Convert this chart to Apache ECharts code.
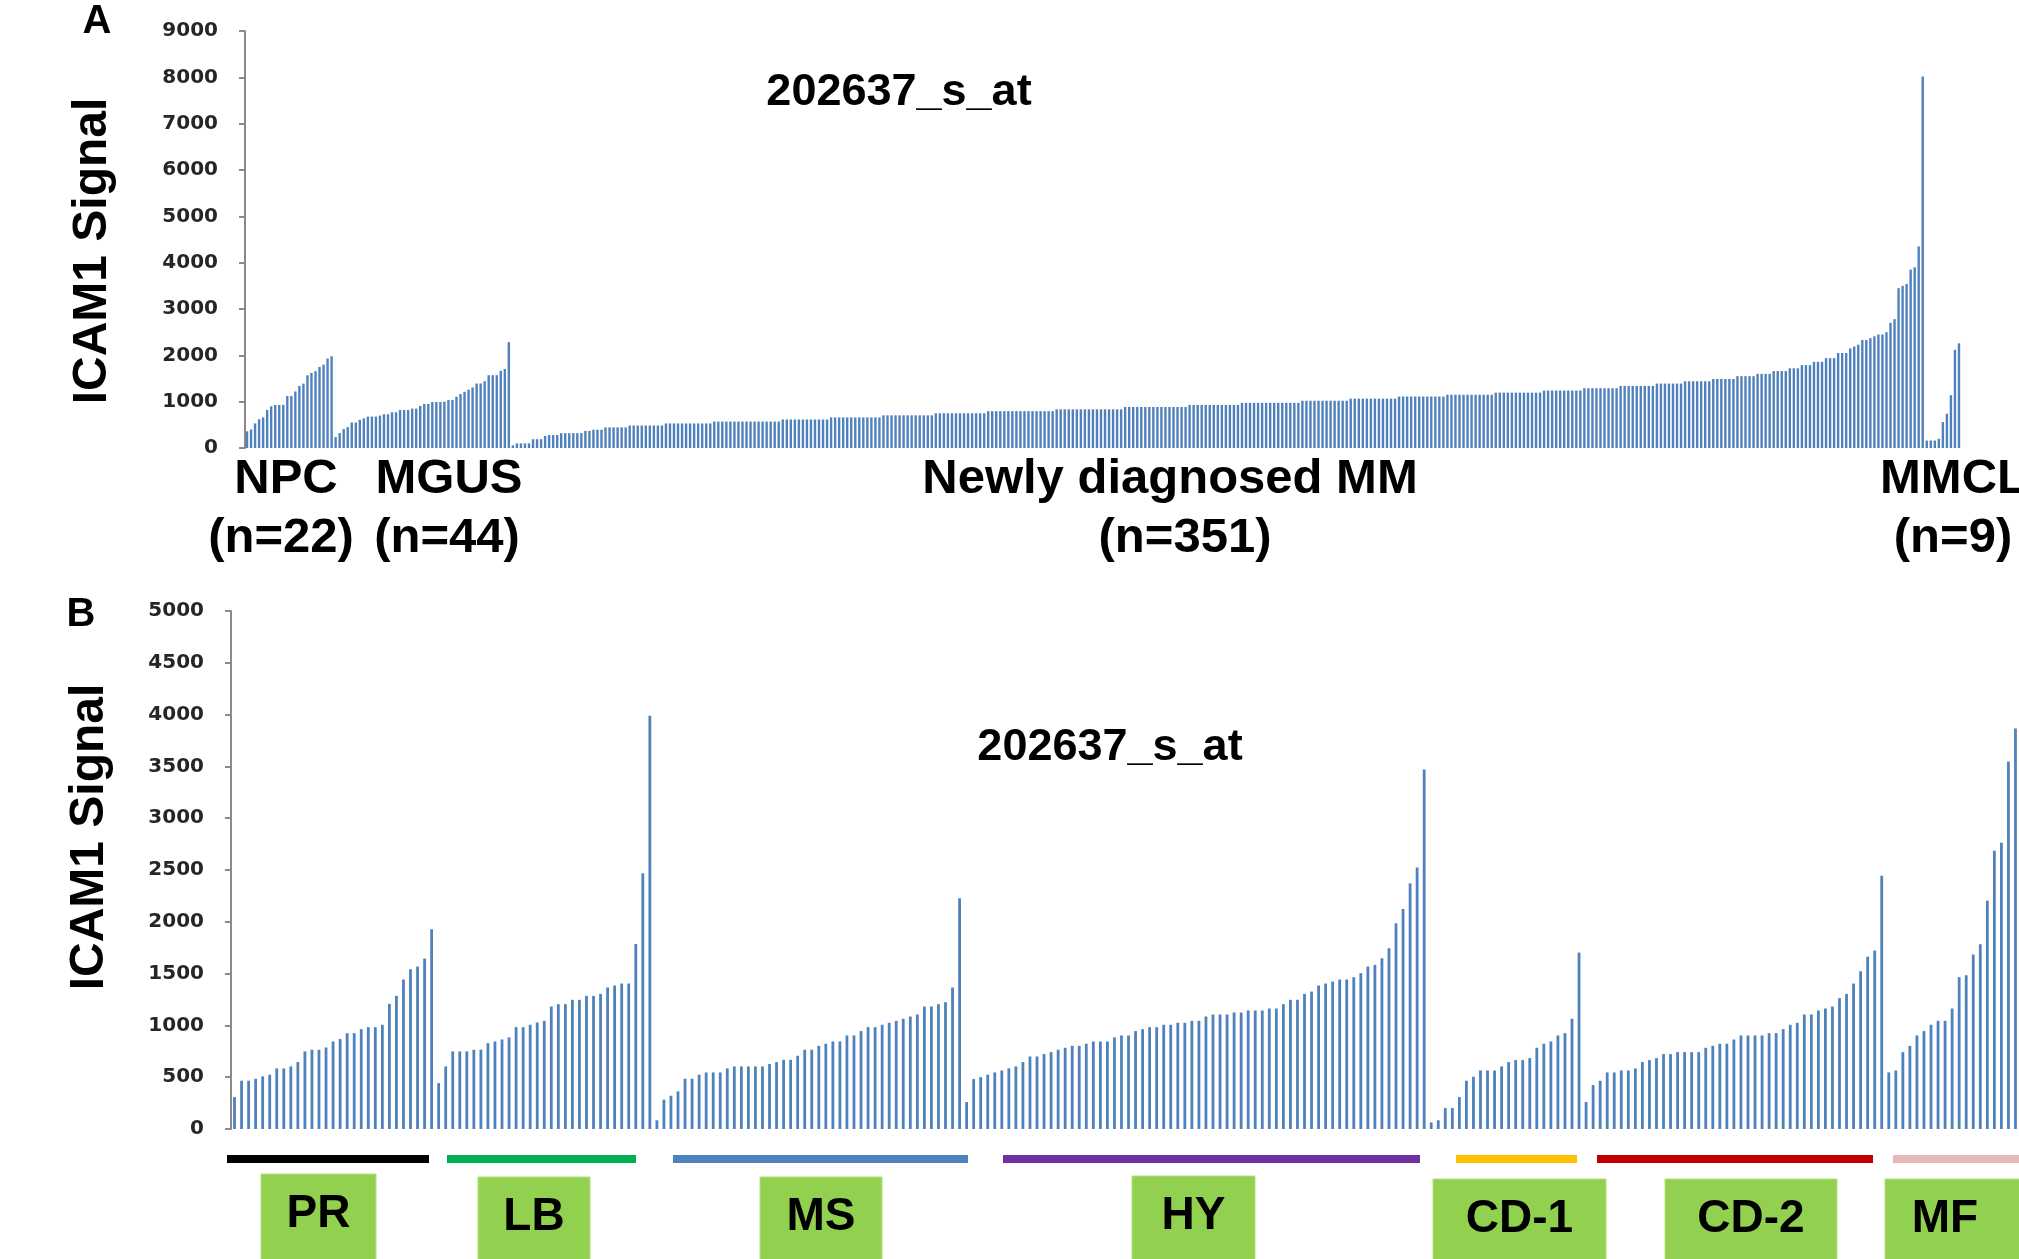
<!DOCTYPE html>
<html lang="en">
<head>
    <meta charset="UTF-8">
    <title>ICAM1 202637_s_at</title>
    <script src="https://cdn.jsdelivr.net/npm/echarts@6.0.0/dist/echarts.min.js"></script>
    <style>
        body { margin: 0; background: #fff; }
    </style>
</head>
<body>
<div id="chart" style="width:2019px; height:1259px"></div>
<script type="text/javascript">
    // panel A: sorted signal per group
    var npc = [360,400,530,620,660,820,900,930,930,930,1120,1120,1220,1340,1390,1570,1620,1660,1750,1800,1930,1980];
    var mgus = [236,321,407,450,550,550,607,640,678,678,678,700,728,728,771,771,821,821,821,850,850,907,950,950,
        993,993,993,1000,1035,1035,1107,1164,1214,1260,1307,1392,1392,1442,1571,1571,1571,1664,1707,2285];
    var mm = [
        57, 100,100,100,100, 190,190,190, 260, 280,280,280,
        320,320,320,320,320,320, 370,370, 395,395,395,
        445,445,445,445,445,445,
        485,485,485,485,485,485,485,485,485,
        530,530,530,530,530,530,530,530,530,530,530,530,
        570,570,570,570,570,570,570,570,570,570,570,570,570,570,570,570,570,
        615,615,615,615,615,615,615,615,615,615,615,615,
        660,660,660,660,660,660,660,660,660,660,660,660,660,
        705,705,705,705,705,705,705,705,705,705,705,705,705,
        750,750,750,750,750,750,750,750,750,750,750,750,750,
        795,795,795,795,795,795,795,795,795,795,795,795,795,795,795,795,795,
        835,835,835,835,835,835,835,835,835,835,835,835,835,835,835,835,835,
        885,885,885,885,885,885,885,885,885,885,885,885,885,885,885,885,
        930,930,930,930,930,930,930,930,930,930,930,930,930,
        975,975,975,975,975,975,975,975,975,975,975,975,975,975,975,
        1020,1020,1020,1020,1020,1020,1020,1020,1020,1020,1020,1020,
        1065,1065,1065,1065,1065,1065,1065,1065,1065,1065,1065,1065,
        1110,1110,1110,1110,1110,1110,1110,1110,1110,1110,1110,1110,
        1150,1150,1150,1150,1150,1150,1150,1150,1150,1150,1150,1150,
        1195,1195,1195,1195,1195,1195,1195,1195,1195,1195,1195,1195,
        1240,1240,1240,1240,1240,1240,1240,1240,1240,1240,
        1290,1290,1290,1290,1290,1290,1290,1290,1290,
        1340,1340,1340,1340,1340,1340,1340,1340,1340,
        1390,1390,1390,1390,1390,1390,1390,
        1440,1440,1440,1440,1440,1440,1440,
        1490,1490,1490,1490,1490,1490,
        1550,1550,1550,1550,1550,
        1600,1600,1600,1600,
        1660,1660,1660,1660,
        1720,1720,1720, 1790,1790,1790, 1860,1860,1860, 1940,1940,1940, 2050,2050,2050,
        2150,2190,2230,2330,2330,2370,2410,2450,2450,2500,2700,2780,3450,3500,3540,3850,3900,4350,8020
    ];
    var mmcl = [160,160,160,200,560,740,1140,2120,2260];
    var ticksA = {min: 0, max: 9000, step: 1000};

    // panel B: newly diagnosed MM by molecular subgroup
    var pr = [308,466,466,485,508,524,585,585,604,646,749,765,765,787,845,868,925,925,964,983,983,1006,1208,1285,1443,1542,1568,1645,1928];
    var lb = [443,604,749,749,749,765,765,829,845,864,884,983,983,1006,1028,1044,1182,1205,1205,1247,1247,1285,1285,1304,1366,1385,1404,1404,1786,2468,3990];
    var ms = [84,283,321,363,485,485,524,546,546,546,585,604,604,604,604,604,627,646,668,668,707,765,765,803,823,845,845,903,903,945,
        983,983,1006,1025,1044,1064,1086,1105,1182,1182,1205,1224,1366,2227];
    var hy = [260,482,501,524,546,565,585,604,646,700,700,723,742,765,784,803,803,823,845,845,845,884,903,903,945,964,983,983,1006,1006,
        1025,1025,1044,1044,1086,1105,1105,1105,1125,1125,1144,1144,1144,1163,1163,1205,1247,1247,1304,1327,1385,1404,1423,1443,1443,
        1465,1504,1568,1584,1648,1745,1986,2124,2371,2525,3470];
    var cd1 = [64,84,202,202,308,466,504,565,565,565,604,646,665,665,684,784,823,845,903,925,1064,1703];
    var cd2 = [260,424,466,546,546,565,565,585,646,665,684,723,723,742,742,742,742,784,803,823,823,864,903,903,903,903,925,925,964,1006,
        1025,1105,1105,1144,1163,1182,1263,1304,1404,1523,1664,1722,2445];
    var mf = [546,565,742,803,903,945,1006,1044,1044,1163,1465,1484,1684,1783,2204,2686,2763,3547,3865];
    var ticksB = {min: 0, max: 5000, step: 500};

    var subgroups = ['PR','LB','MS','HY','CD-1','CD-2','MF'];

    var dataA = npc.concat(mgus, mm, mmcl);
    var dataB = pr.concat(lb, ms, hy, cd1, cd2, mf);
    var catA = dataA.map(function (v, i) { return 'a' + i; });
    var catB = dataB.map(function (v, i) { return 'b' + i; });

    var barColor = '#4f81bd';
    var axisGray = '#8a8a8a';
    var bold = 'bold ';
    var arial = '"Liberation Sans", Arial, sans-serif';

    function yAxisFor(t, grid) {
        return {
            type: 'value', gridIndex: grid, min: t.min, max: t.max, interval: t.step,
            splitLine: {show: false},
            axisLine: {show: true, lineStyle: {color: axisGray, width: 2}},
            axisTick: {show: true, length: 6, lineStyle: {color: axisGray, width: 2}},
            axisLabel: {margin: 27, fontFamily: '"DejaVu Sans", Verdana, sans-serif', fontWeight: 'bold',
                fontSize: 20, color: '#262626',
                formatter: function (v) { return String(v); }}   // no thousands comma
        };
    }
    function xAxisFor(cats, grid) {
        return {
            type: 'category', gridIndex: grid, data: cats,
            axisLine: {show: false}, axisTick: {show: false}, axisLabel: {show: false}
        };
    }

    function txt(x, y, s, size, opt) {
        opt = opt || {};
        return {
            type: 'text', x: x, y: y, rotation: opt.rot || 0, silent: true,
            style: {
                text: s, fill: '#000', font: bold + size + 'px ' + arial,
                align: opt.align || 'center', verticalAlign: 'middle',
                textAlign: opt.align || 'center', textVerticalAlign: 'middle'
            }
        };
    }
    function bar(x0, x1, color) {
        return {type: 'rect', silent: true, shape: {x: x0, y: 1155, width: x1 - x0, height: 8}, style: {fill: color}};
    }
    function box(x0, x1, y0, label) {
        return [
            {type: 'rect', silent: true, shape: {x: x0, y: y0, width: x1 - x0, height: 1259 - y0 + 4},
                style: {fill: '#92d050', stroke: '#b4e07c', lineWidth: 1}},
            txt((x0 + x1) / 2, y0 + 40, label, 46)
        ];
    }

    var graphics = [
        txt(97, 22, 'A', 40),
        txt(81, 615, 'B', 40),
        txt(93, 251, 'ICAM1 Signal', 48, {rot: Math.PI / 2}),
        txt(90, 837, 'ICAM1 Signal', 48, {rot: Math.PI / 2}),
        txt(899, 93, '202637_s_at', 45),
        txt(1110, 748, '202637_s_at', 45),
        txt(286, 479, 'NPC', 49),
        txt(281, 538, '(n=22)', 49),
        txt(449, 479, 'MGUS', 49),
        txt(447, 538, '(n=44)', 49),
        txt(1170, 479, 'Newly diagnosed MM', 49),
        txt(1185, 538, '(n=351)', 49),
        txt(1880, 479, 'MMCL', 49, {align: 'left'}),
        txt(1953, 538, '(n=9)', 49),
        bar(227, 429, '#000000'),
        bar(447, 636, '#00b050'),
        bar(673, 968, '#4f81bd'),
        bar(1003, 1420, '#7030a0'),
        bar(1456, 1577, '#ffc000'),
        bar(1597, 1873, '#c00000'),
        bar(1893, 2025, '#e6b9b8')
    ];
    var boxPos = [[261, 376, 1174], [478, 590, 1177], [760, 882, 1177], [1132, 1255, 1176],
        [1433, 1606, 1179], [1665, 1837, 1179], [1885, 2030, 1179]];
    boxPos.forEach(function (p, i) {
        graphics = graphics.concat(box(p[0], p[1], p[2], subgroups[i]));
    });
    // MF label sits left inside its cropped box
    graphics[graphics.length - 1].x = 1945;

    var myChart = echarts.init(document.getElementById('chart'));
    myChart.setOption({
        animation: false,
        backgroundColor: '#ffffff',
        grid: [
            {left: 245, top: 31, width: 1716, height: 417},
            {left: 231, top: 611, width: 1788, height: 518}
        ],
        xAxis: [xAxisFor(catA, 0), xAxisFor(catB, 1)],
        yAxis: [yAxisFor(ticksA, 0), yAxisFor(ticksB, 1)],
        series: [
            {type: 'bar', xAxisIndex: 0, yAxisIndex: 0, data: dataA, barWidth: 2.4,
                itemStyle: {color: barColor}, silent: true},
            {type: 'bar', xAxisIndex: 1, yAxisIndex: 1, data: dataB, barWidth: 2.8,
                itemStyle: {color: barColor}, silent: true}
        ],
        graphic: graphics
    });
</script>
</body>
</html>
